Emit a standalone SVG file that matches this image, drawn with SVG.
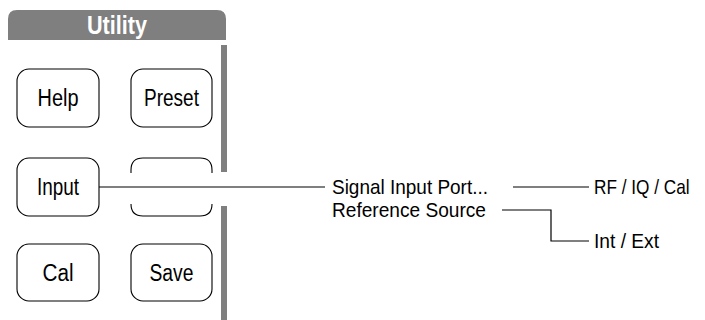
<svg xmlns="http://www.w3.org/2000/svg" width="705" height="320" viewBox="0 0 705 320">
<style>
.btn{fill:#fff;stroke:#000;stroke-width:1.1}
.bt{font-family:"Liberation Sans",Arial,sans-serif;font-size:23px;fill:#000;text-anchor:middle}
.lb{font-family:"Liberation Sans",Arial,sans-serif;font-size:21px;fill:#000}
.ln{fill:none;stroke:#000;stroke-width:1.2}
.gr{fill:#7f7f7f}
</style>
<rect width="705" height="320" fill="#fff"/>
<g id="panel">
<path class="gr" d="M8,40 V19 Q8,10 17,10 H217 Q226,10 226,19 V40 Z"/>
<text x="117" y="34" font-family="'Liberation Sans',Arial,sans-serif" font-size="25" font-weight="bold" fill="#fff" text-anchor="middle" textLength="60" lengthAdjust="spacingAndGlyphs">Utility</text>
<rect class="gr" x="221" y="45" width="6" height="127"/>
<rect class="gr" x="221" y="206" width="6" height="114"/>
</g>
<g id="help"><rect class="btn" x="17" y="69" width="82" height="58" rx="12"/><text class="bt" x="58" y="106" textLength="41" lengthAdjust="spacingAndGlyphs">Help</text></g>
<g id="preset"><rect class="btn" x="131" y="69" width="81" height="58" rx="12"/><text class="bt" x="171.5" y="106" textLength="55" lengthAdjust="spacingAndGlyphs">Preset</text></g>
<g id="input"><rect class="btn" x="17" y="158" width="82" height="58" rx="12"/><text class="bt" x="58" y="195" textLength="42" lengthAdjust="spacingAndGlyphs">Input</text></g>
<g id="blank"><path class="btn" d="M131,173 V170 Q131,158 143,158 H200 Q212,158 212,170 V173 M131,204 Q131,216 143,216 H200 Q212,216 212,204" style="fill:none"/></g>
<g id="cal"><rect class="btn" x="17" y="244" width="82" height="57" rx="12"/><text class="bt" x="58" y="281" textLength="31" lengthAdjust="spacingAndGlyphs">Cal</text></g>
<g id="save"><rect class="btn" x="131" y="244" width="81" height="57" rx="12"/><text class="bt" x="171.5" y="281" textLength="44" lengthAdjust="spacingAndGlyphs">Save</text></g>
<g id="signal"><text class="lb" x="332" y="194" textLength="156" lengthAdjust="spacingAndGlyphs">Signal Input Port...</text></g>
<g id="reference"><text class="lb" x="332" y="217" textLength="154" lengthAdjust="spacingAndGlyphs">Reference Source</text></g>
<g id="rfiq"><text class="lb" transform="translate(594,194) scale(0.82,1)">RF / IQ / Cal</text></g>
<g id="intext"><text class="lb" x="594" y="248" textLength="65" lengthAdjust="spacingAndGlyphs">Int / Ext</text></g>
<g id="connectors">
<path class="ln" d="M99,187 H325"/>
<path class="ln" d="M513,187 H589"/>
<path class="ln" d="M502,210 H551 V241 H589"/>
</g>
</svg>
